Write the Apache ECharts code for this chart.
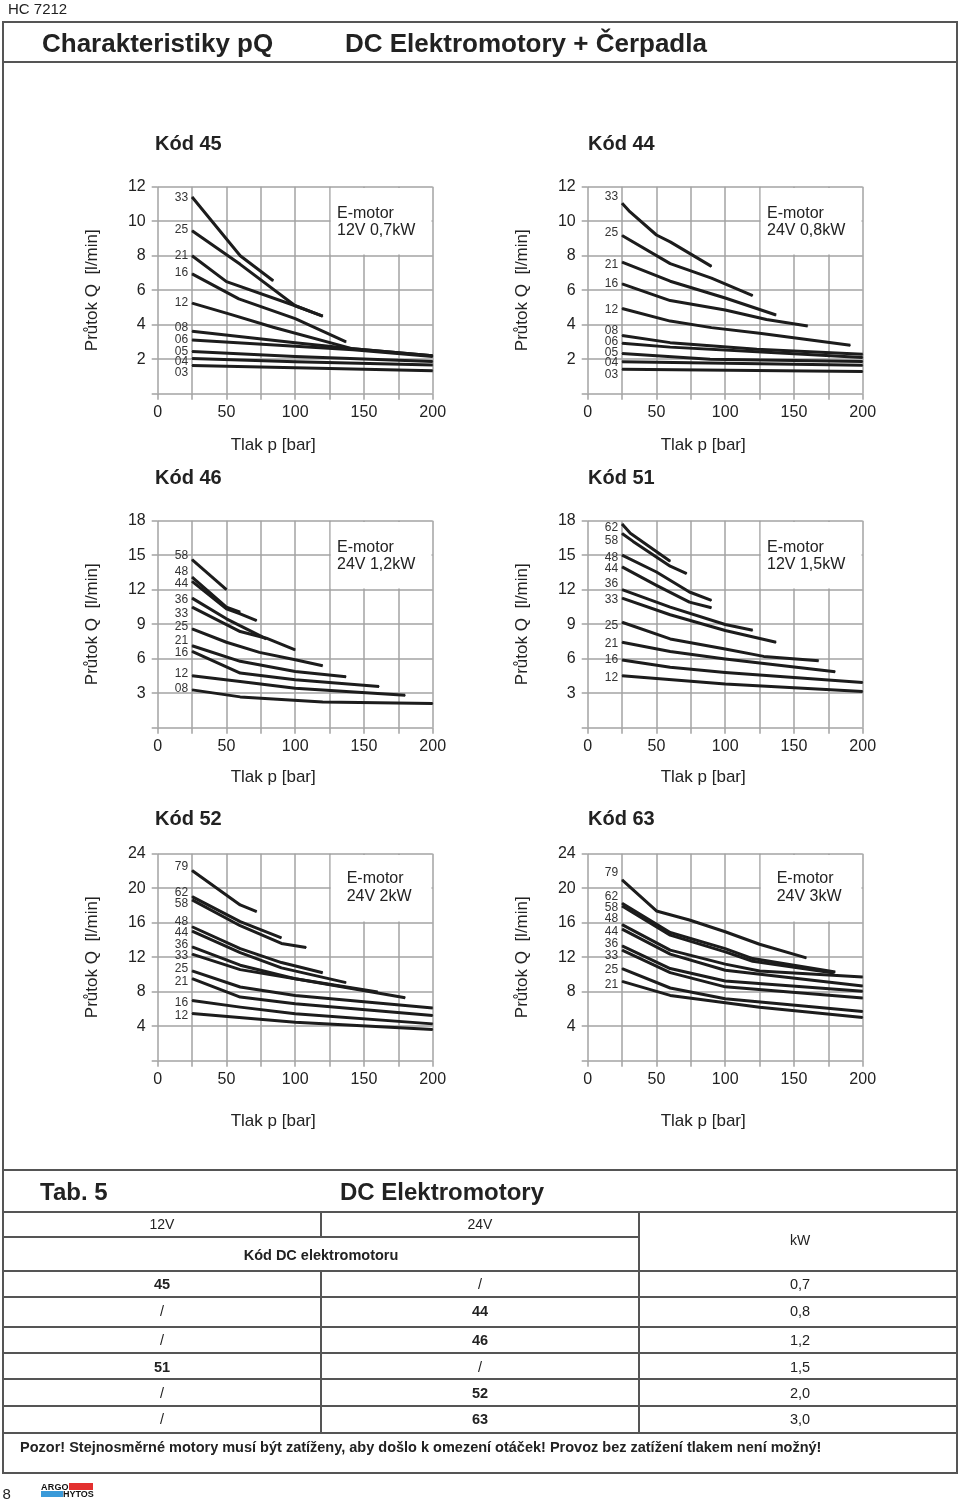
<!DOCTYPE html>
<html><head><meta charset="utf-8">
<script src="https://cdn.jsdelivr.net/npm/echarts@6/dist/echarts.min.js"></script>
<style>
body{margin:0;background:#fff;font-family:"Liberation Sans",Arial,Helvetica,sans-serif;color:#222;}
#page{position:relative;width:960px;height:1504px;overflow:hidden;background:#fff;}
#chart{position:absolute;left:0;top:0;width:960px;height:1504px;}
.t{position:absolute;white-space:nowrap;line-height:1;transform:translateY(-50%);}
.c{transform:translate(-50%,-50%);}
.b{font-weight:bold;}
.hl{position:absolute;height:2px;background:#555;}
.vl{position:absolute;width:2px;background:#555;}
</style></head>
<body><div id="page"><div id="chart"></div></div>
<script>
// ---------- DATA ----------
const pressureTicks = [0, 50, 100, 150, 200];
const tableV12 = ['45', '/', '/', '51', '/', '/'];
const tableV24 = ['/', '44', '46', '/', '52', '63'];
const tableKW  = ['0,7', '0,8', '1,2', '1,5', '2,0', '3,0'];

const k45Labels = ['33','25','21','16','12','08','06','05','04','03'];
const k45Curves = [
  [[25,11.4],[60,8.0],[84,6.55]],
  [[25,9.45],[60,7.5],[100,5.1],[120,4.5]],
  [[25,8.0],[50,6.5],[100,5.1],[120,4.5]],
  [[25,6.95],[59,5.5],[100,4.35],[137,3.0]],
  [[25,5.25],[53,4.6],[84,3.85],[142,2.6],[200,2.2]],
  [[25,3.62],[100,2.95],[142,2.6],[200,2.2]],
  [[25,3.12],[100,2.75],[142,2.55],[200,2.15]],
  [[25,2.44],[100,2.15],[200,1.87]],
  [[25,2.04],[100,1.85],[200,1.66]],
  [[25,1.63],[100,1.5],[200,1.33]]
];

const k44Labels = ['33','25','21','16','12','08','06','05','04','03'];
const k44Curves = [
  [[25,11.04],[30,10.6],[50,9.2],[60,8.8],[90,7.38]],
  [[25,9.17],[60,7.54],[90,6.7],[120,5.69]],
  [[25,7.63],[60,6.52],[100,5.55],[137,4.56]],
  [[25,6.37],[60,5.4],[100,4.85],[130,4.3],[160,3.92]],
  [[25,4.94],[60,4.21],[90,3.83],[125,3.5],[191,2.81]],
  [[25,3.38],[60,2.96],[123,2.58],[200,2.29]],
  [[25,2.92],[60,2.7],[130,2.4],[200,2.1]],
  [[25,2.33],[89,2.0],[200,1.87]],
  [[25,1.85],[200,1.65]],
  [[25,1.42],[200,1.29]]
];

const k46Labels = ['58','48','44','36','33','25','21','16','12','08'];
const k46Curves = [
  [[25,14.62],[50,12.0]],
  [[25,13.1],[50,10.48],[60,10.05]],
  [[25,12.73],[50,10.34],[60,9.9],[72,9.32]],
  [[25,11.27],[50,9.47],[79,7.72]],
  [[25,10.48],[60,8.36],[79,7.78],[100,6.76]],
  [[25,8.6],[50,7.43],[74,6.55],[100,5.91],[120,5.39]],
  [[25,7.13],[60,5.77],[100,4.89],[137,4.43]],
  [[25,6.64],[60,4.75],[100,4.16],[161,3.58]],
  [[25,4.51],[60,4.02],[100,3.44],[180,2.82]],
  [[25,3.29],[60,2.68],[120,2.24],[200,2.1]]
];

const k51Labels = ['62','58','48','44','36','33','25','21','16','12'];
const k51Curves = [
  [[25,17.71],[31,16.9],[60,14.48]],
  [[25,16.89],[33,16.2],[60,14.04],[72,13.4]],
  [[25,15.0],[50,13.54],[74,11.8],[90,11.07]],
  [[25,13.98],[50,12.38],[74,10.92],[90,10.43]],
  [[25,12.0],[60,10.49],[100,8.97],[120,8.47]],
  [[25,11.27],[60,9.82],[100,8.45],[137,7.43]],
  [[25,9.17],[60,7.72],[100,6.85],[128,6.2],[168,5.82]],
  [[25,7.43],[60,6.63],[100,5.97],[180,4.86]],
  [[25,5.89],[60,5.25],[100,4.81],[200,3.94]],
  [[25,4.52],[100,3.79],[200,3.15]]
];

const k52Labels = ['79','62','58','48','44','36','33','25','21','16','12'];
const k52Curves = [
  [[25,22.06],[60,18.06],[72,17.28]],
  [[25,19.03],[60,16.12],[90,14.25]],
  [[25,18.64],[60,15.65],[90,13.59],[108,13.13]],
  [[25,15.53],[60,13.0],[90,11.38],[120,10.2]],
  [[25,15.03],[60,12.54],[90,10.76],[137,9.05]],
  [[25,13.2],[60,11.07],[100,9.51],[160,7.96]],
  [[25,12.35],[60,10.56],[100,9.51],[180,7.3]],
  [[25,10.41],[60,8.54],[100,7.57],[152,6.8],[200,6.1]],
  [[25,9.51],[60,7.38],[100,6.6],[200,5.24]],
  [[25,6.99],[60,6.21],[100,5.44],[200,4.27]],
  [[25,5.48],[100,4.47],[200,3.61]]
];

const k63Labels = ['79','62','58','48','44','36','33','25','21'];
const k63Curves = [
  [[25,20.97],[50,17.36],[74,16.31],[100,14.95],[125,13.5],[159,11.92]],
  [[25,18.25],[60,14.87],[100,13.0],[120,11.84],[180,10.29]],
  [[25,17.94],[60,14.56],[100,12.62],[120,11.53],[179,10.17]],
  [[25,15.77],[60,12.82],[100,11.2],[125,10.41],[200,9.71]],
  [[25,15.26],[60,12.35],[100,10.49],[200,8.66]],
  [[25,13.32],[60,10.68],[100,9.24],[200,8.04]],
  [[25,12.82],[60,10.21],[100,8.56],[200,7.26]],
  [[25,10.68],[60,8.43],[100,7.19],[200,5.71]],
  [[25,9.2],[60,7.57],[125,6.2],[200,5.0]]
];

// ---------- LAYOUT ----------
const FONT = '"Liberation Sans", Arial, Helvetica, sans-serif';
const GRIDC = '#a3a3a3';
const LINEC = '#1c1c1c';
const rows = [
  {top:186.7, h:207, max:12, step:2, nameGap:43, titleY:143, boxDx:179.3, boxDy:26.3},
  {top:520.7, h:207, max:18, step:3, nameGap:41, titleY:477, boxDx:179.3, boxDy:26.3},
  {top:853.7, h:207, max:24, step:4, nameGap:52, titleY:818, boxDx:189, boxDy:25}
];
const cols = [{left:157.7, w:275, titleDx:-2.7}, {left:587.7, w:275, titleDx:0.3}];
// label vertical nudges (px) so crowded series labels stay readable
const panels = [
  {code:'45', motor:'12V 0,7kW', names:k45Labels, curves:k45Curves, r:0, c:0, nudge:[1,-1,0,-1,0,-4,0,0,3,7]},
  {code:'44', motor:'24V 0,8kW', names:k44Labels, curves:k44Curves, r:0, c:1, nudge:[-7,-3,3,0,1,-5,-2,-1,1,5]},
  {code:'46', motor:'24V 1,2kW', names:k46Labels, curves:k46Curves, r:1, c:0, nudge:[-4,-5,2,2,7,-2,-5,1,-2,-1]},
  {code:'51', motor:'12V 1,5kW', names:k51Labels, curves:k51Curves, r:1, c:1, nudge:[4,7,2,2,-6,2,3,1,0,2]},
  {code:'52', motor:'24V 2kW',   names:k52Labels, curves:k52Curves, r:2, c:0, nudge:[-4,-4,4,-5,2,-2,2,-2,3,2,2]},
  {code:'63', motor:'24V 3kW',   names:k63Labels, curves:k63Curves, r:2, c:1, nudge:[-7,-7,2,-6,3,-2,6,1,3]}
];

const grid = [], xAxis = [], yAxis = [], series = [], graphic = [];
panels.forEach((p, i) => {
  const R = rows[p.r], C = cols[p.c];
  grid.push({left:C.left, top:R.top, width:C.w, height:R.h, containLabel:false});
  xAxis.push({
    type:'value', gridIndex:i, min:pressureTicks[0], max:pressureTicks[pressureTicks.length-1], interval:25,
    axisLine:{show:false},
    axisTick:{show:true, length:6, lineStyle:{color:GRIDC, width:1.5}},
    splitLine:{show:true, lineStyle:{color:GRIDC, width:1.5}},
    axisLabel:{margin:11, fontSize:16, color:'#222', fontFamily:FONT,
      formatter: v => pressureTicks.indexOf(v) >= 0 ? String(v) : ''},
    name:'Tlak p [bar]', nameLocation:'middle', nameGap:R.nameGap,
    nameTextStyle:{fontSize:17, color:'#222', fontFamily:FONT, padding:[0,44,0,0]}
  });
  yAxis.push({
    type:'value', gridIndex:i, min:0, max:R.max, interval:R.step,
    axisLine:{show:false},
    axisTick:{show:true, length:6, lineStyle:{color:GRIDC, width:1.5}},
    splitLine:{show:true, lineStyle:{color:GRIDC, width:1.5}},
    axisLabel:{margin:12, fontSize:16, color:'#222', fontFamily:FONT, formatter: v => v === 0 ? '' : String(v)},
    name:'Průtok Q  [l/min]', nameLocation:'middle', nameGap:57, nameRotate:90,
    nameTextStyle:{fontSize:17, color:'#222', fontFamily:FONT}
  });
  p.curves.forEach((pts, k) => {
    series.push({
      type:'line', xAxisIndex:i, yAxisIndex:i, name:p.code + '-' + p.names[k],
      smooth:false,
      symbol:'circle', symbolSize:1, showSymbol:true,
      itemStyle:{color:LINEC},
      lineStyle:{color:LINEC, width:3, join:'round', cap:'butt'},
      emphasis:{disabled:true}, silent:true, animation:false,
      label:{show:false},
      data: pts.map((pt, j) => j === 0 ? {
        value:pt,
        label:{show:true, position:'left', distance:3.5, offset:[0, p.nudge[k] || 0],
          formatter:p.names[k], fontSize:12, color:'#333', fontFamily:FONT}
      } : {value:pt})
    });
  });
  // white box with motor text (covers grid lines, like the original)
  const stepPx = R.h / (R.max / R.step);
  const bx = C.left + C.w * 125 / 200 + 1.2;
  graphic.push({type:'rect', z:50, silent:true,
    shape:{x:bx, y:R.top + 1.2, width:C.left + C.w - bx - 1.2, height:stepPx * 2 - 2.4},
    style:{fill:'#fff'}});
  graphic.push({type:'text', z:51, silent:true, x:C.left + R.boxDx, y:R.top + R.boxDy - 8.5,
    style:{text:'E-motor\n' + p.motor, font:'16px ' + FONT, fill:'#222', lineHeight:17.5}});
});

const chart = echarts.init(document.getElementById('chart'), null, {renderer:'canvas'});
chart.setOption({backgroundColor:'transparent', animation:false, grid, xAxis, yAxis, series, graphic});

// ---------- STATIC PAGE TEXT / TABLE ----------
const page = document.getElementById('page');
function txt(s, x, y, cls, size, center){
  const d = document.createElement('div');
  d.className = 't ' + (center ? 'c ' : '') + (cls || '');
  d.style.left = x + 'px'; d.style.top = y + 'px'; d.style.fontSize = size + 'px';
  d.textContent = s; page.appendChild(d);
}
function hl(x1, x2, y){ const d=document.createElement('div'); d.className='hl';
  d.style.left=x1+'px'; d.style.width=(x2-x1)+'px'; d.style.top=(y-1)+'px'; page.appendChild(d); }
function vl(x, y1, y2){ const d=document.createElement('div'); d.className='vl';
  d.style.left=(x-1)+'px'; d.style.top=y1+'px'; d.style.height=(y2-y1)+'px'; page.appendChild(d); }

txt('HC 7212', 8, 8, '', 15);
// frame
hl(2, 958, 21.7); hl(2, 958, 61.7); hl(2, 958, 1169.7); hl(2, 958, 1211.7); hl(2, 958, 1473.3);
vl(2.5, 20.7, 1474.3); vl(957, 20.7, 1474.3);
txt('Charakteristiky pQ', 42, 43, 'b', 26);
txt('DC Elektromotory + Čerpadla', 345, 43, 'b', 26);
panels.forEach(p => txt('Kód ' + p.code, cols[p.c].left + cols[p.c].titleDx, rows[p.r].titleY, 'b', 20));

txt('Tab. 5', 40, 1192, 'b', 24);
txt('DC Elektromotory', 340, 1192, 'b', 24);
// table lines
hl(2, 639, 1237.3);
const rowLines = [1270.7, 1296.7, 1326.7, 1352.7, 1379.3, 1406, 1432.7];
rowLines.forEach(y => hl(2, 958, y));
vl(320.5, 1211.7, 1237.3); vl(320.5, 1270.7, 1432.7); vl(638.7, 1211.7, 1432.7);
txt('12V', 162, 1224, '', 14, true);
txt('24V', 480, 1224, '', 14, true);
txt('kW', 800, 1240, '', 14, true);
txt('Kód DC elektromotoru', 321, 1255, 'b', 14.5, true);
const rowCenters = [1284, 1310.7, 1340, 1366.7, 1392.7, 1419.3];
tableKW.forEach((kw, i) => {
  txt(tableV12[i], 162, rowCenters[i], tableV12[i] === '/' ? '' : 'b', 14.5, true);
  txt(tableV24[i], 480, rowCenters[i], tableV24[i] === '/' ? '' : 'b', 14.5, true);
  txt(kw, 800, rowCenters[i], '', 14.5, true);
});
txt('Pozor! Stejnosměrné motory musí být zatíženy, aby došlo k omezení otáček! Provoz bez zatížení tlakem není možný!', 20, 1447.3, 'b', 14.5);
txt('8', 2.5, 1493, '', 15);
// logo
const LF = FONT.replace(/"/g, "'");
const lg = document.createElement('div');
lg.style.cssText = 'position:absolute;left:41px;top:1483px;width:54px;height:15px;';
lg.innerHTML = '<div style="position:absolute;left:0;top:-0.5px;font:bold 9px/8px ' + LF + ';letter-spacing:0.2px;color:#111">ARGO</div>'
 + '<div style="position:absolute;left:28px;top:0;width:24px;height:7px;background:#e3302f"></div>'
 + '<div style="position:absolute;left:0;top:8px;width:21.5px;height:6px;background:#3a9ad9"></div>'
 + '<div style="position:absolute;left:22px;top:7px;font:bold 9px/8px ' + LF + ';letter-spacing:0px;color:#111">HYTOS</div>';
page.appendChild(lg);
</script></body></html>
